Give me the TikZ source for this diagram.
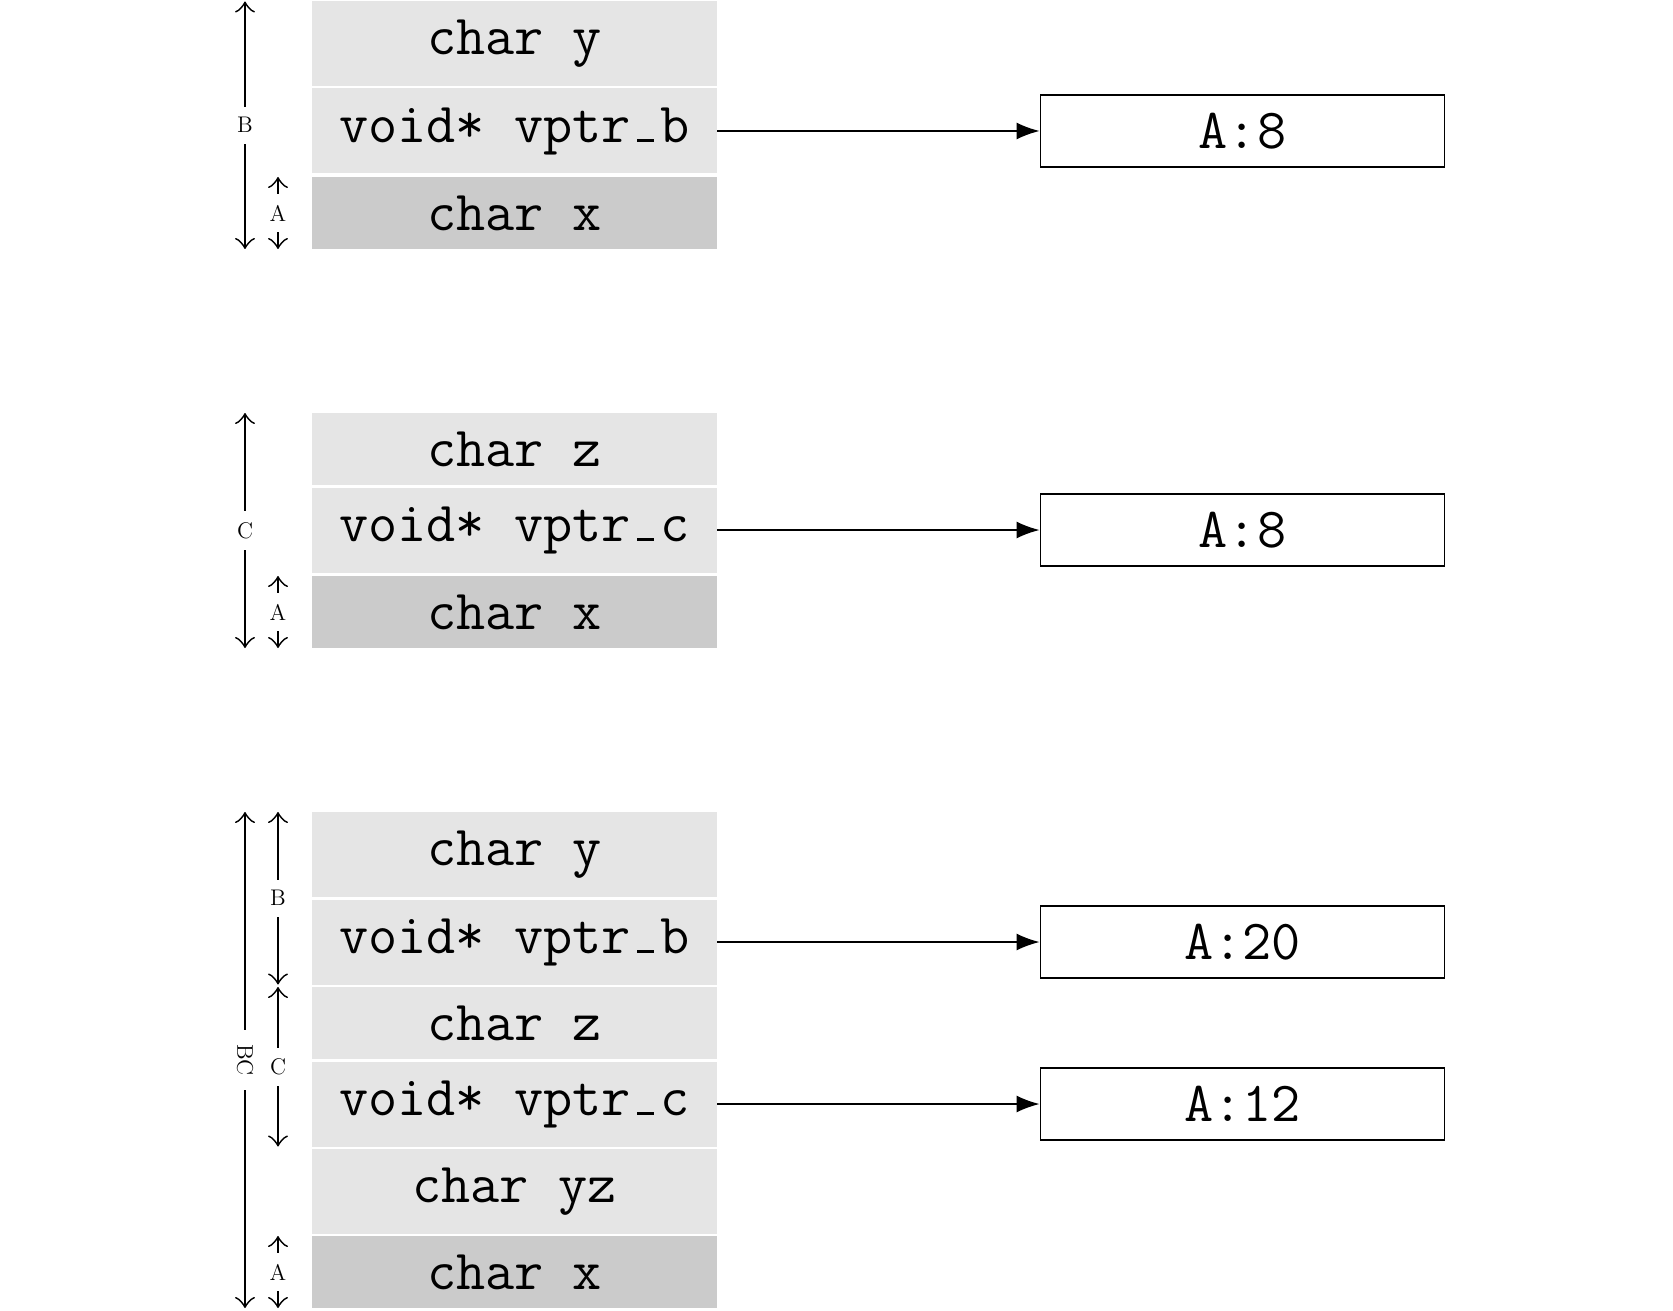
\documentclass[tikz,border=0pt]{standalone}
\usetikzlibrary{arrows.meta}
\definecolor{cellgray}{RGB}{229,229,229}
\definecolor{basegray}{RGB}{203,203,203}
\newcommand\cellfnt{\fontsize{28.3}{34}\selectfont\ttfamily}
\newcommand\dimfnt{\fontsize{11.3}{13}\selectfont\rmfamily}
\newcommand\uscore{\makebox[0.525em][c]{\rule{0.3em}{0.05em}}}
\tikzset{
  cell/.style={rectangle, fill=cellgray, minimum width=202.5pt, inner sep=0pt, outer sep=0pt, font=\cellfnt},
  dcell/.style={cell, minimum height=42.5pt},
  ncell/.style={cell, minimum height=36pt},
  basecell/.style={fill=basegray},
  vtab/.style={draw, line width=0.9pt, minimum width=202pt, minimum height=36pt, inner sep=0pt, font=\cellfnt},
  ptr/.style={line width=0.9pt, -{Latex[length=11.5pt,width=8.5pt]}},
  dimarrow/.style={line width=0.9pt, {Classical TikZ Rightarrow[length=5.5pt,width=10pt]}-{Classical TikZ Rightarrow[length=5.5pt,width=10pt]}},
  dimlabel/.style={fill=white, inner xsep=2pt, inner ysep=5.5pt, font=\dimfnt},
}
\begin{document}
\begin{tikzpicture}[x=0.5pt, y=-0.5pt]
\useasboundingbox (0,0) rectangle (1673,1310);
\coordinate (ox) at (245,0);
\coordinate (ix) at (278,0);

% group 1
\node[dcell] (g1y) at (514.5,44) {char y};
\node[dcell] (g1vb) at (514.5,131) {void* vptr\uscore b};
\node[ncell, basecell] (g1x) at (514.5,213) {char x};
\node[vtab] (b1) at (1242.5,131) {A:8};
\draw[ptr] (g1vb.east) -- (b1.west);
\draw[dimarrow] (ox |- g1y.north) -- node[dimlabel] {B} (ox |- g1x.south);
\draw[dimarrow] (ix |- g1x.north) -- node[dimlabel] {A} (ix |- g1x.south);

% group 2
\node[ncell] (g2z) at (514.5,449) {char z};
\node[dcell] (g2vc) at (514.5,530) {void* vptr\uscore c};
\node[ncell, basecell] (g2x) at (514.5,612) {char x};
\node[vtab] (b2) at (1242.5,530) {A:8};
\draw[ptr] (g2vc.east) -- (b2.west);
\draw[dimarrow] (ox |- g2z.north) -- node[dimlabel] {C} (ox |- g2x.south);
\draw[dimarrow] (ix |- g2x.north) -- node[dimlabel] {A} (ix |- g2x.south);

% group 3
\node[dcell] (g3y) at (514.5,854.5) {char y};
\node[dcell] (g3vb) at (514.5,942) {void* vptr\uscore b};
\node[ncell] (g3z) at (514.5,1023) {char z};
\node[dcell] (g3vc) at (514.5,1104) {void* vptr\uscore c};
\node[dcell] (g3yz) at (514.5,1191.5) {char yz};
\node[ncell, basecell] (g3x) at (514.5,1272) {char x};
\node[vtab] (b3b) at (1242.5,942) {A:20};
\node[vtab] (b3c) at (1242.5,1104) {A:12};
\draw[ptr] (g3vb.east) -- (b3b.west);
\draw[ptr] (g3vc.east) -- (b3c.west);
\draw[dimarrow] (ox |- g3y.north) -- node[dimlabel, rotate=-90, inner xsep=7pt, inner ysep=2pt] {BC} (ox |- g3x.south);
\draw[dimarrow] (ix |- g3y.north) -- node[dimlabel] {B} (ix |- g3vb.south);
\draw[dimarrow] (ix |- g3z.north) -- node[dimlabel] {C} (ix |- g3vc.south);
\draw[dimarrow] (ix |- g3x.north) -- node[dimlabel] {A} (ix |- g3x.south);
\end{tikzpicture}
\end{document}
